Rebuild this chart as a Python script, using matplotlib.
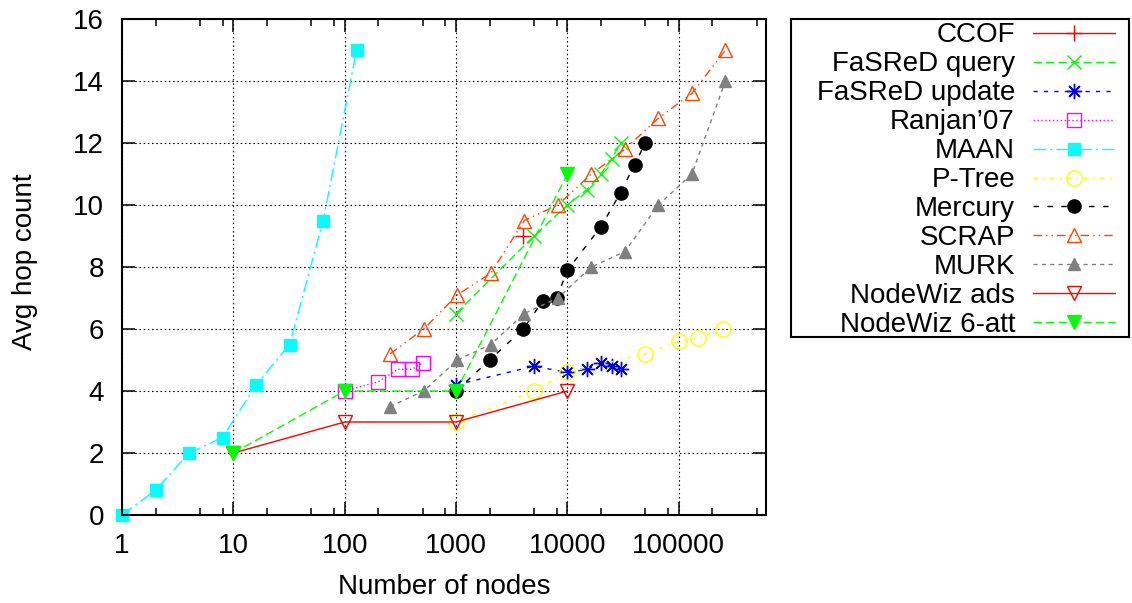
import numpy as np
import matplotlib.pyplot as plt
from matplotlib.ticker import LogLocator, NullFormatter, FixedLocator, FixedFormatter

plt.rcParams['font.family'] = ['Liberation Sans', 'DejaVu Sans']
plt.rcParams['font.size'] = 20

# values
ccof_x = [4000]
ccof_y = [9.0]
fq_x = [1000, 5000, 10000, 15000, 20000, 25000, 30000]
fq_y = [6.5, 9.0, 10.0, 10.5, 11.0, 11.5, 12.0]
fu_x = [1000, 5000, 10000, 15000, 20000, 25000, 30000]
fu_y = [4.2, 4.8, 4.6, 4.7, 4.9, 4.8, 4.7]
ranjan_x = [100, 200, 300, 400, 500]
ranjan_y = [4.0, 4.3, 4.7, 4.7, 4.9]
maan_x = [1, 2, 4, 8, 16, 32, 64, 128]
maan_y = [0, 0.8, 2.0, 2.5, 4.2, 5.5, 9.5, 15.0]
ptree_x = [1000, 5000, 10000, 50000, 100000, 150000, 250000]
ptree_y = [3.0, 4.0, 4.6, 5.2, 5.6, 5.7, 6.0]
mercury_x = [1000, 2000, 4000, 6000, 8000, 10000, 20000, 30000, 40000, 50000]
mercury_y = [4.0, 5.0, 6.0, 6.9, 7.0, 7.9, 9.3, 10.4, 11.3, 12.0]
pow2_x = [256, 512, 1024, 2048, 4096, 8192, 16384, 32768, 65536, 131072, 262144]
scrap_y = [5.2, 6.0, 7.1, 7.8, 9.5, 10.0, 11.0, 11.8, 12.8, 13.6, 15.0]
murk_y = [3.5, 4.0, 5.0, 5.5, 6.5, 7.0, 8.0, 8.5, 10.0, 11.0, 14.0]
nwads_x = [10, 100, 1000, 10000]
nwads_y = [2.0, 3.0, 3.0, 4.0]
nw6_x = [10, 100, 1000, 10000]
nw6_y = [2.0, 4.0, 4.0, 11.0]

x_ticks = [1, 10, 100, 1000, 10000, 100000]
x_ticklabels = ['1', '10', '100', '1000', '10000', '100000']
y_ticks = [0, 2, 4, 6, 8, 10, 12, 14, 16]

series = [
    ('CCOF', ccof_x, ccof_y,
     dict(color='#ff0000', ls='-', marker='+', ms=11, mew=1.0)),
    ('FaSReD query', fq_x, fq_y,
     dict(color='#00ff00', ls=(0, (6, 3)), marker='x', ms=10, mew=1.0)),
    ('FaSReD update', fu_x, fu_y,
     dict(color='#0000ff', ls=(0, (3, 4.5)), marker=(8, 2, 0), ms=11, mew=1.0)),
    ("Ranjan\u201907", ranjan_x, ranjan_y,
     dict(color='#ff00ff', ls=(0, (1, 1.8)), marker='s', ms=10, mfc='none', mew=1.0)),
    ('MAAN', maan_x, maan_y,
     dict(color='#00ffff', ls=(0, (9, 3, 1.5, 3)), marker='s', ms=9)),
    ('P-Tree', ptree_x, ptree_y,
     dict(color='#ffff00', ls=(0, (3, 4, 1, 4)), marker='o', ms=11, mfc='none', mew=1.0)),
    ('Mercury', mercury_x, mercury_y,
     dict(color='#000000', ls=(0, (4, 6)), marker='o', ms=9.5)),
    ('SCRAP', pow2_x, scrap_y,
     dict(color='#ff4500', ls=(0, (6, 3, 1, 3, 1, 3)), marker='^', ms=10, mfc='none', mew=1.0)),
    ('MURK', pow2_x, murk_y,
     dict(color='#808080', ls=(0, (3, 3)), marker='^', ms=9)),
    ('NodeWiz ads', nwads_x, nwads_y,
     dict(color='#ff0000', ls='-', marker='v', ms=10, mfc='none', mew=1.0)),
    ('NodeWiz 6-att', nw6_x, nw6_y,
     dict(color='#00ff00', ls=(0, (6, 3)), marker='v', ms=10)),
]

W, H = 1132, 603
fig = plt.figure(figsize=(W / 100, H / 100), dpi=100)
ax = fig.add_axes([122 / W, 88 / H, 643.5 / W, 496 / H])

for label, xs, ys, style in series:
    ax.plot(xs, ys, label=label, lw=1.0, clip_on=False, **style)

ax.set_xscale('log')
ax.set_xlim(1, 6e5)
ax.set_ylim(0, 16)
ax.xaxis.set_major_locator(FixedLocator(x_ticks))
ax.xaxis.set_major_formatter(FixedFormatter(x_ticklabels))
ax.xaxis.set_minor_locator(LogLocator(base=10, subs=(2, 5, 8)))
ax.xaxis.set_minor_formatter(NullFormatter())
ax.set_yticks(y_ticks)

ax.grid(True, which='major', color='black', lw=0.8, ls=(0, (1.4, 2.4)))
ax.set_axisbelow(True)
for sp in ax.spines.values():
    sp.set_linewidth(1.5)
ax.tick_params(which='major', direction='in', length=9.5, width=1.1,
               top=True, right=True, pad=13)
ax.tick_params(which='minor', direction='in', length=4.8, width=1.1,
               top=True, right=True)
ax.tick_params(axis='y', which='minor', left=False, right=False)

ax.set_xlabel('Number of nodes')
ax.set_ylabel('Avg hop count')
ax.xaxis.set_label_coords(0.5, -0.118)
ax.yaxis.set_label_coords(-0.13, 0.51)

# gnuplot style key: label right-aligned, sample to its right
lx0, ly0, lx1, ly1 = 791, 19, 1129, 337
lax = fig.add_axes([lx0 / W, 1 - ly1 / H, (lx1 - lx0) / W, (ly1 - ly0) / H])
lax.set_xlim(lx0, lx1)
lax.set_ylim(ly1, ly0)
lax.set_xticks([])
lax.set_yticks([])
for sp in lax.spines.values():
    sp.set_linewidth(1.5)
row0, pitch = 33, 28.9
for i, (label, xs, ys, style) in enumerate(series):
    yc = row0 + pitch * i
    lax.text(1015, yc + 9.5, label, ha='right', va='baseline')
    line_style = {k: v for k, v in style.items() if k not in ('marker', 'ms', 'mew', 'mfc')}
    lax.plot([1033, 1115], [yc, yc], lw=1.0, **line_style)
    mark_style = {k: v for k, v in style.items() if k != 'ls'}
    lax.plot([1074], [yc], ls='none', **mark_style)

fig.savefig('out.png', dpi=100)
